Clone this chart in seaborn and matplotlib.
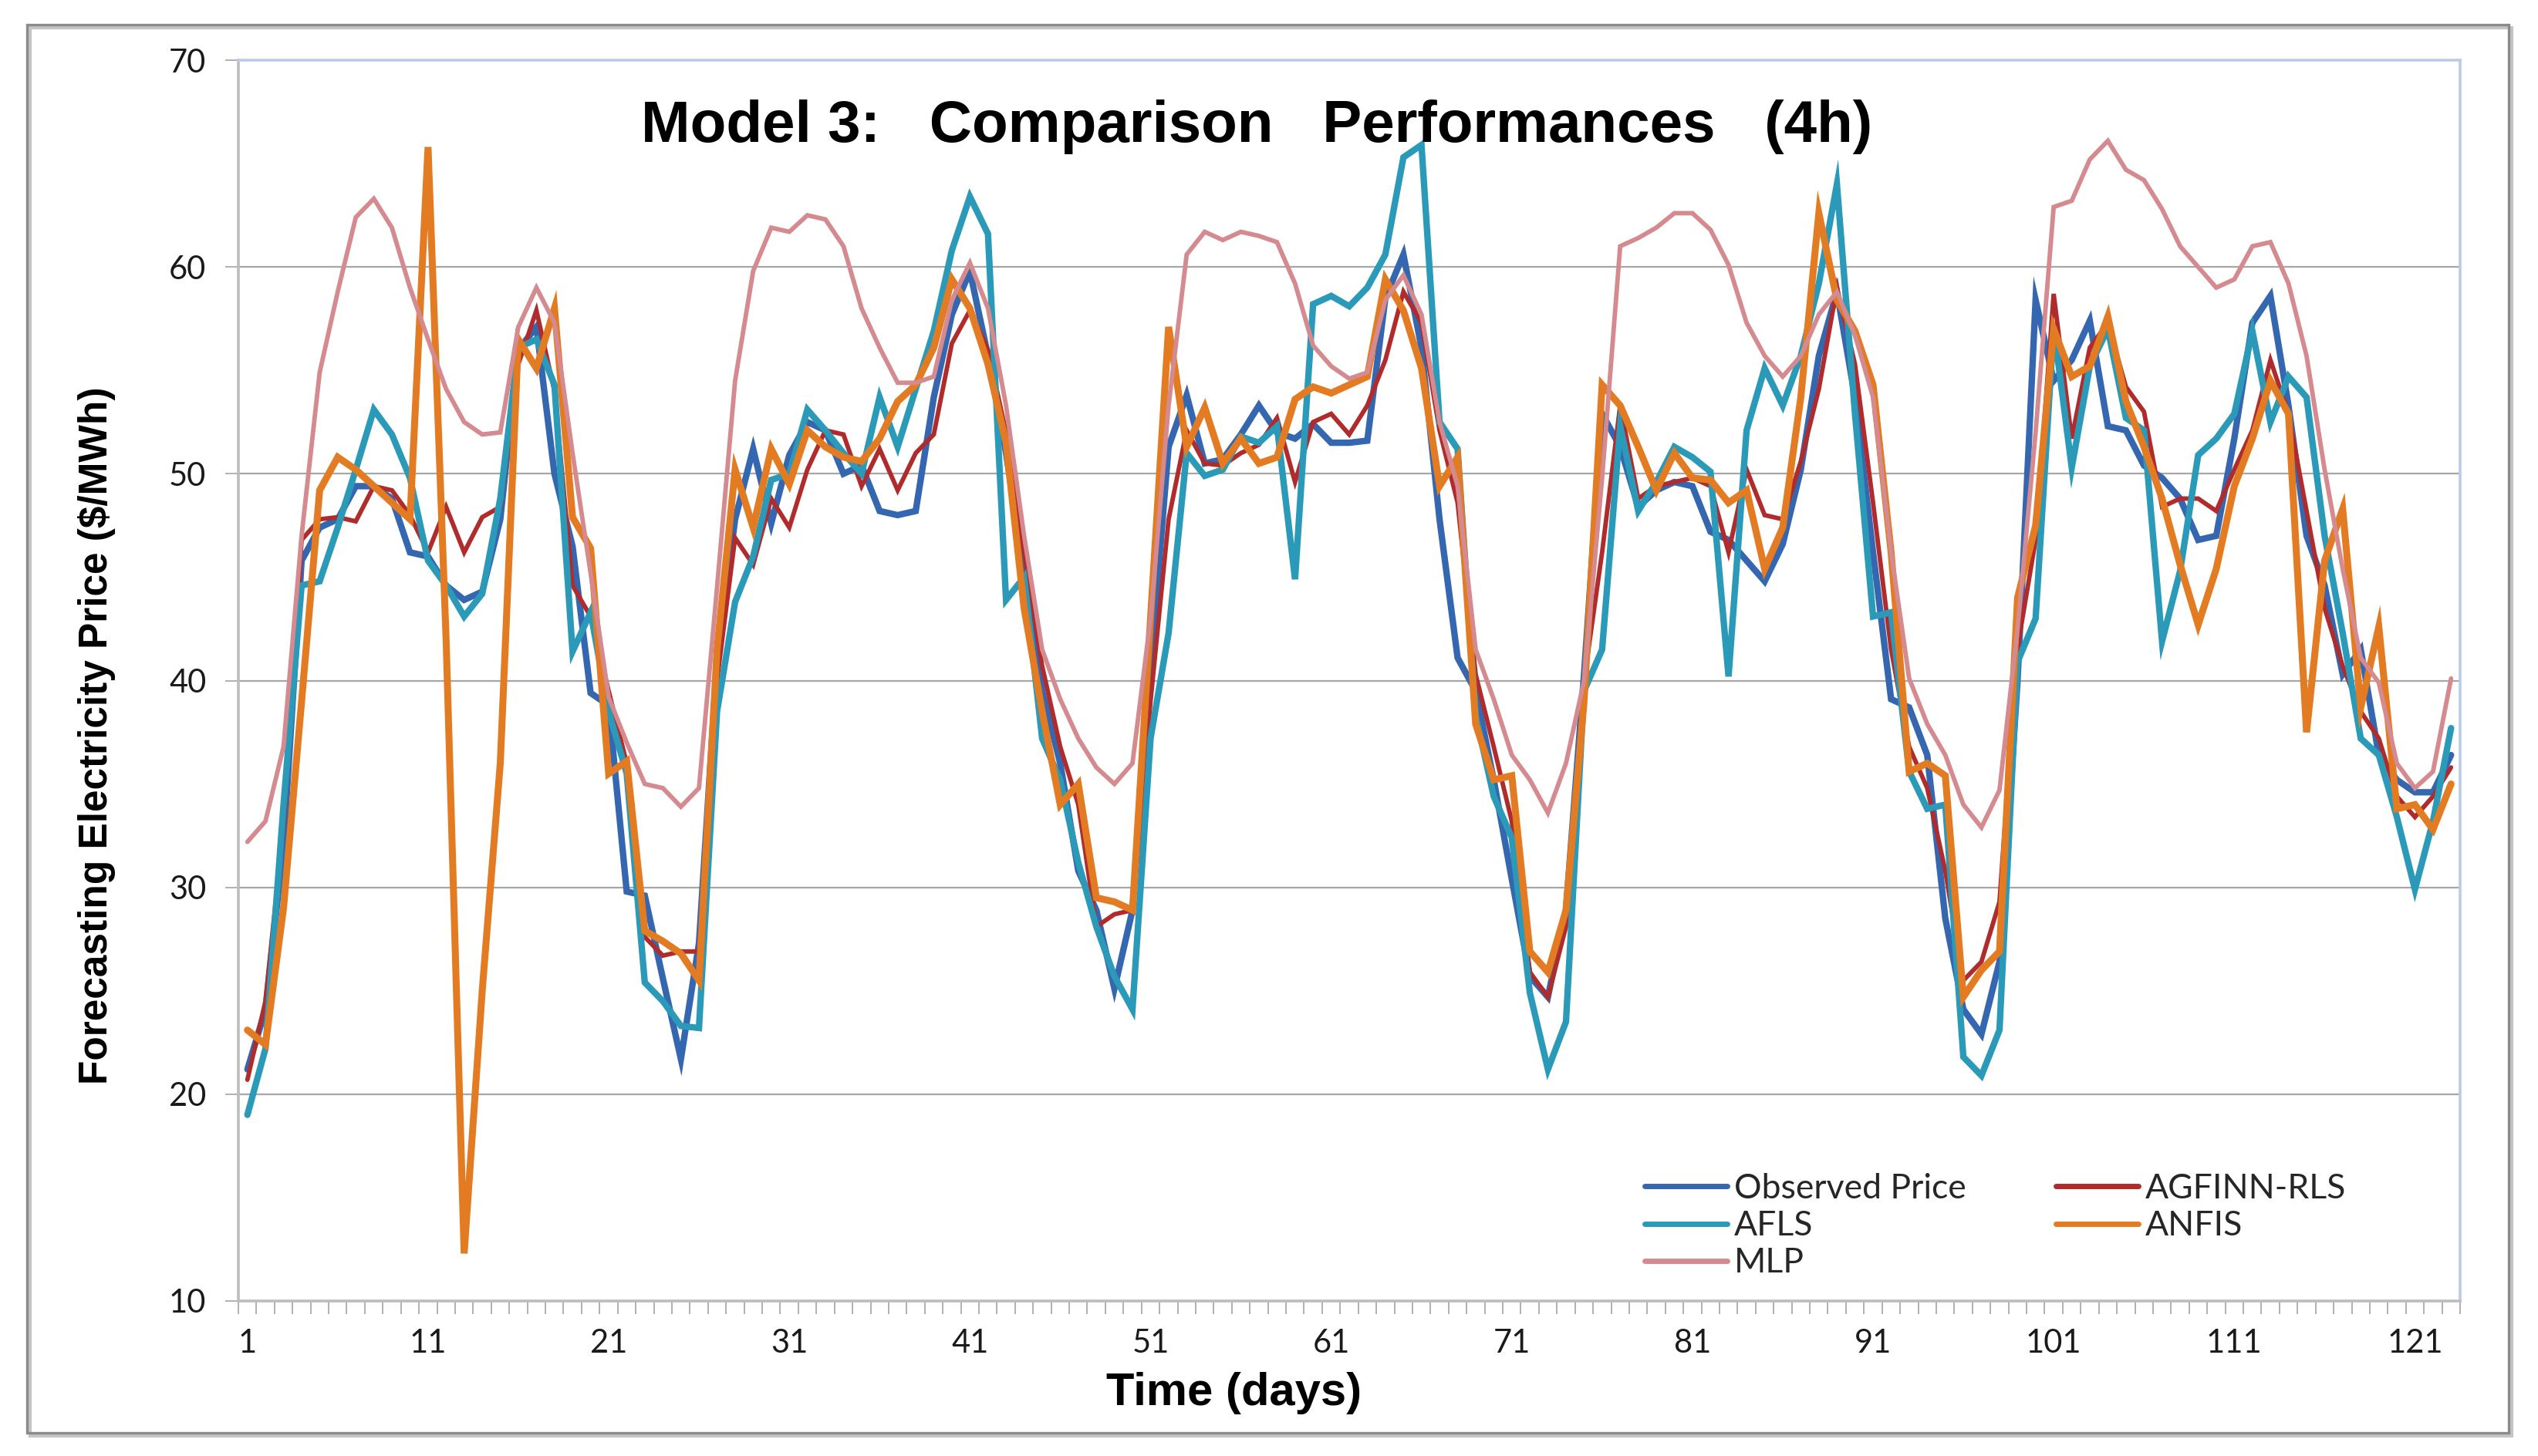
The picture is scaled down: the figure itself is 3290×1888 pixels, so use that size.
import numpy as np
import pandas as pd
import matplotlib
matplotlib.use("Agg")
import matplotlib.pyplot as plt
import seaborn as sns
from matplotlib.patches import Rectangle
from matplotlib.ticker import MultipleLocator, FixedLocator

# --- data (days 1..123) ---
days = list(range(1, 124))

observed = [
    21.2, 24.1, 32.0, 45.8, 47.4, 47.8, 49.4, 49.4, 48.8, 46.2,
    46.0, 44.6, 43.9, 44.3, 47.8, 56.0, 57.1, 50.0, 46.5, 39.4,
    38.8, 29.8, 29.6, 25.6, 21.7, 27.3, 41.0, 47.8, 51.2, 47.6,
    50.9, 52.5, 52.1, 50.0, 50.4, 48.2, 48.0, 48.2, 53.7, 57.7,
    59.8, 55.7, 51.0, 45.4, 39.5, 36.0, 30.8, 28.9, 25.1, 28.9,
    40.7, 51.3, 53.8, 50.5, 50.7, 51.9, 53.3, 52.0, 51.7, 52.4,
    51.5, 51.5, 51.6, 58.5, 60.6, 56.1, 47.8, 41.1, 39.5, 35.2,
    30.4, 25.7, 24.7, 28.9, 40.3, 52.9, 51.3, 48.4, 49.2, 49.6,
    49.4, 47.2, 46.8, 45.8, 44.8, 46.6, 50.2, 55.7, 58.8, 53.7,
    46.2, 39.1, 38.7, 36.4, 28.5, 24.1, 22.9, 26.4, 40.0, 58.4,
    54.5, 55.5, 57.4, 52.3, 52.1, 50.4, 49.8, 48.8, 46.8, 47.0,
    51.7, 57.3, 58.6, 53.3, 47.0, 44.6, 40.3, 41.5, 36.4, 35.2,
    34.6, 34.6, 36.4,
]

agfinn = [
    20.7, 24.5, 33.0, 46.8, 47.8, 47.9, 47.7, 49.4, 49.2, 48.0,
    46.2, 48.4, 46.2, 47.9, 48.4, 55.3, 57.9, 54.0, 44.6, 43.1,
    39.5, 36.0, 27.6, 26.7, 26.9, 26.9, 40.0, 46.9, 45.6, 48.8,
    47.4, 50.2, 52.1, 51.9, 49.4, 51.2, 49.2, 51.0, 51.9, 56.3,
    57.9, 56.0, 52.0, 46.2, 40.7, 36.8, 34.0, 28.1, 28.7, 28.9,
    39.0, 47.8, 52.1, 50.5, 50.4, 51.0, 51.4, 52.7, 49.6, 52.5,
    52.9, 51.9, 53.3, 55.5, 58.8, 57.3, 52.1, 48.6, 40.3, 36.8,
    33.2, 25.9, 24.7, 28.1, 40.0, 46.2, 53.3, 48.8, 49.4, 49.6,
    49.8, 49.4, 46.2, 50.2, 48.0, 47.8, 50.6, 54.1, 59.0, 55.3,
    48.6, 41.5, 36.8, 34.8, 30.8, 25.5, 26.4, 29.3, 41.6, 46.8,
    58.7, 51.7, 56.1, 57.3, 54.2, 53.0, 48.4, 48.8, 48.8, 48.2,
    50.2, 52.1, 55.5, 52.9, 48.2, 43.5, 40.7, 38.5, 37.2, 34.4,
    33.4, 34.4, 35.8,
]

afls = [
    19.0, 22.2, 34.0, 44.6, 44.8, 47.4, 50.2, 53.1, 51.9, 49.8,
    45.8, 44.6, 43.1, 44.2, 48.8, 56.1, 56.5, 54.3, 41.4, 43.3,
    38.5, 35.5, 25.4, 24.5, 23.3, 23.2, 38.5, 43.8, 46.0, 49.7,
    50.0, 53.1, 52.1, 51.0, 50.0, 53.7, 51.3, 54.1, 56.9, 60.8,
    63.4, 61.6, 43.9, 45.0, 37.2, 35.2, 31.2, 28.1, 25.7, 24.1,
    37.2, 42.3, 51.0, 49.9, 50.2, 51.8, 51.5, 52.3, 44.9, 58.2,
    58.6, 58.1, 59.0, 60.6, 65.3, 65.9, 52.5, 51.2, 38.3, 34.4,
    32.4, 24.9, 21.2, 23.5, 39.5, 41.5, 52.3, 48.2, 49.6, 51.3,
    50.8, 50.1, 40.2, 52.1, 55.1, 53.3, 55.7, 59.2, 64.0, 52.9,
    43.1, 43.3, 35.6, 33.8, 34.0, 21.8, 20.9, 23.1, 40.9, 43.0,
    57.1, 50.3, 55.2, 57.0, 52.7, 52.1, 41.9, 45.3, 50.9, 51.7,
    52.9, 56.9, 52.5, 54.7, 53.7, 47.0, 42.3, 37.2, 36.4, 33.4,
    29.9, 33.2, 37.7,
]

anfis = [
    23.1, 22.4, 29.0, 39.0, 49.2, 50.8, 50.2, 49.4, 48.6, 47.8,
    65.8, 42.0, 12.3, 25.0, 36.0, 56.5, 55.1, 58.0, 47.9, 46.4,
    35.5, 36.1, 27.9, 27.4, 26.8, 25.5, 41.5, 50.2, 47.4, 51.2,
    49.5, 52.1, 51.3, 50.8, 50.6, 51.7, 53.5, 54.3, 56.1, 59.4,
    58.0, 55.3, 51.5, 43.5, 38.5, 34.0, 35.0, 29.5, 29.3, 28.9,
    43.0, 57.1, 51.3, 53.2, 50.5, 51.7, 50.5, 50.8, 53.6, 54.2,
    53.9, 54.3, 54.7, 59.4, 57.9, 55.1, 49.4, 50.8, 37.9, 35.2,
    35.4, 26.9, 25.9, 28.9, 39.0, 54.3, 53.3, 51.3, 49.2, 51.0,
    49.8, 49.7, 48.6, 49.2, 45.4, 47.4, 53.7, 62.6, 58.4, 56.9,
    54.3, 46.2, 35.6, 36.0, 35.4, 24.7, 26.0, 26.9, 44.0, 47.5,
    57.0, 54.7, 55.2, 57.6, 53.5, 51.3, 48.8, 45.6, 42.7, 45.4,
    49.4, 51.7, 54.5, 52.9, 37.5, 45.8, 48.3, 38.7, 42.6, 33.8,
    34.0, 32.8, 35.0,
]

mlp = [
    32.2, 33.2, 36.8, 47.0, 54.9, 58.8, 62.4, 63.3, 61.9, 59.0,
    56.5, 54.1, 52.5, 51.9, 52.0, 57.1, 59.0, 57.3, 51.0, 45.2,
    39.2, 37.0, 35.0, 34.8, 33.9, 34.8, 44.5, 54.5, 59.8, 61.9,
    61.7, 62.5, 62.3, 61.0, 58.0, 56.1, 54.4, 54.4, 54.7, 58.4,
    60.2, 58.0, 53.3, 47.0, 41.5, 39.1, 37.2, 35.8, 35.0, 36.0,
    43.0, 53.3, 60.6, 61.7, 61.3, 61.7, 61.5, 61.2, 59.2, 56.2,
    55.2, 54.6, 54.9, 58.4, 59.6, 57.7, 52.5, 49.4, 41.5, 39.1,
    36.4, 35.2, 33.6, 36.0, 40.0, 49.8, 61.0, 61.4, 61.9, 62.6,
    62.6, 61.8, 60.1, 57.3, 55.7, 54.7, 55.7, 57.7, 58.8, 56.7,
    53.7, 46.2, 40.1, 37.9, 36.4, 34.0, 32.9, 34.7, 42.5, 52.0,
    62.9, 63.2, 65.2, 66.1, 64.7, 64.2, 62.8, 61.0, 60.0, 59.0,
    59.4, 61.0, 61.2, 59.2, 55.7, 50.2, 45.4, 41.1, 39.9, 36.0,
    34.8, 35.6, 40.1,
]

series_names = ["Observed Price", "AGFINN-RLS", "AFLS", "ANFIS", "MLP"]
series_values = [observed, agfinn, afls, anfis, mlp]
series_colors = ["#3566b0", "#b02c2c", "#2a9ab8", "#e27b22", "#d48a8e"]
series_widths = [6.0, 4.2, 6.0, 6.5, 4.2]

x_tick_labels = list(range(1, 124, 10))
y_ticks = [10, 20, 30, 40, 50, 60, 70]

# long table for seaborn
df = pd.concat(
    [pd.DataFrame({"Day": days, "Price": v, "Model": n})
     for n, v in zip(series_names, series_values)],
    ignore_index=True,
)

sns.set_theme(style="white")
plt.rcParams["font.family"] = ["Lato", "DejaVu Sans"]

W, H = 3290, 1888
fig = plt.figure(figsize=(W / 100, H / 100), dpi=100)
ax = fig.add_axes([309 / W, 1 - 1687 / H, (3189 - 309) / W, (1687 - 78) / H])

for name, color, lw in zip(series_names, series_colors, series_widths):
    sns.lineplot(data=df[df["Model"] == name], x="Day", y="Price",
                 color=color, linewidth=lw, label=name, ax=ax,
                 solid_joinstyle="miter", legend=False)

ax.set_xlim(0.5, 123.5)
ax.set_ylim(10, 70)
ax.set_xlabel("")
ax.set_ylabel("")

# grid + ticks
ax.yaxis.set_major_locator(FixedLocator(y_ticks))
ax.grid(axis="y", color="#a6a6a6", linewidth=1.6)
ax.grid(axis="x", visible=False)
ax.set_xticks(x_tick_labels)
ax.set_xticklabels([str(t) for t in x_tick_labels])
ax.xaxis.set_minor_locator(MultipleLocator(1, offset=0.5))
ax.tick_params(axis="x", which="major", length=0, pad=26, labelsize=30,
               labelcolor="#1a1a1a")
ax.tick_params(axis="x", which="minor", bottom=True, length=12, width=1.4,
               color="#b0b0b0", direction="out")
ax.tick_params(axis="y", which="major", left=True, length=12, width=1.4,
               color="#b0b0b0", pad=18, labelsize=30, labelcolor="#1a1a1a")

for side in ["left", "bottom"]:
    ax.spines[side].set_color("#bdbdbd")
    ax.spines[side].set_linewidth(2.6)
for side in ["top", "right"]:
    ax.spines[side].set_color("#b7cde9")
    ax.spines[side].set_linewidth(2.6)

# legend: two pinned columns, as in the reference
handles = {h.get_label(): h for h in ax.get_lines()}
leg_kw = dict(loc="upper left", frameon=False, fontsize=32, handlelength=2.4,
              handletextpad=0.2, labelspacing=0.16, borderpad=0,
              borderaxespad=0)
col1 = ["Observed Price", "AFLS", "MLP"]
col2 = ["AGFINN-RLS", "ANFIS"]
leg1 = fig.legend([handles[n] for n in col1], col1,
                  bbox_to_anchor=(2132 / W, 1 - 1521 / H), **leg_kw)
leg2 = fig.legend([handles[n] for n in col2], col2,
                  bbox_to_anchor=(2665 / W, 1 - 1521 / H), **leg_kw)
for leg in (leg1, leg2):
    for line in leg.get_lines():
        line.set_linewidth(5)

# titles
fig.text(1629 / W, 1 - 165 / H, "Model 3:   Comparison   Performances   (4h)",
         ha="center", va="center", fontsize=55, fontweight="bold",
         family="Liberation Sans", color="black")
fig.text(126 / W, 1 - 954 / H, "Forecasting Electricity Price ($/MWh)",
         ha="center", va="center", rotation=90, fontsize=37,
         fontweight="bold", family="Liberation Sans", color="black")
fig.text(1600 / W, 1 - 1807 / H, "Time (days)", ha="center", va="center",
         fontsize=43, fontweight="bold", family="Liberation Sans",
         color="black")

# outer chart border with a light shadow
fig.patches.append(Rectangle((39 / W, 1 - 1862 / H), (3217 / W), (1826 / H),
                             transform=fig.transFigure, fill=False,
                             edgecolor="#c4c4c4", linewidth=3))
fig.patches.append(Rectangle((35 / W, 1 - 1858 / H), (3217 / W), (1826 / H),
                             transform=fig.transFigure, fill=False,
                             edgecolor="#8a8a8a", linewidth=2.4))

fig.savefig("out.png", dpi=100, facecolor="white")
